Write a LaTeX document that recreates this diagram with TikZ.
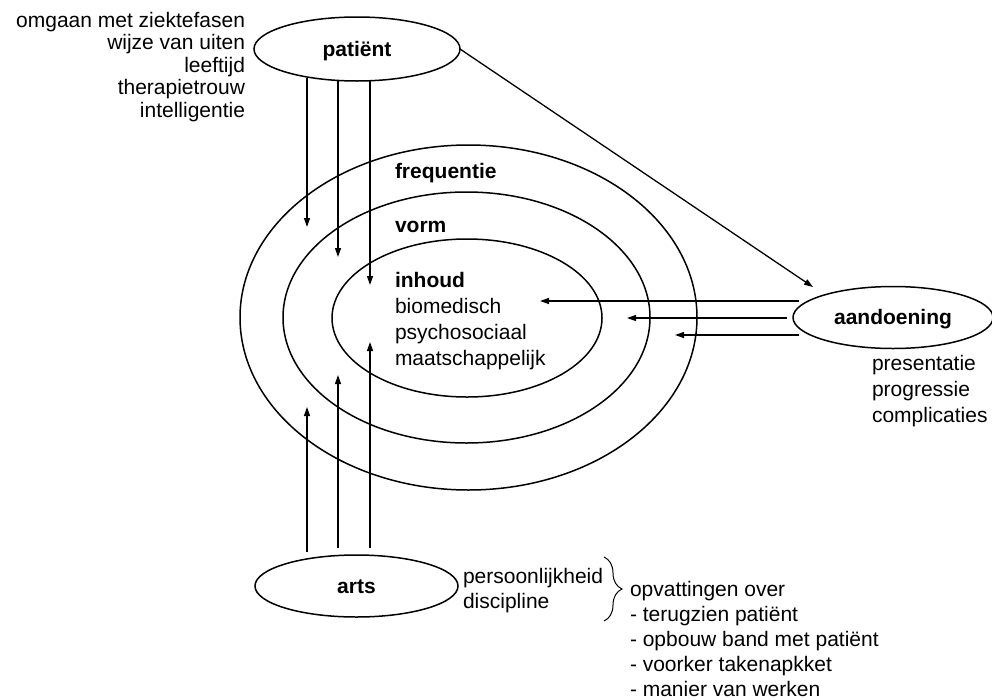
\documentclass[tikz,border=0pt]{standalone}
\usepackage{fontspec}
\setmainfont{Liberation Sans}
\usetikzlibrary{shapes.geometric,arrows.meta,decorations.pathreplacing,calc}
\begin{document}
\begin{tikzpicture}[x=1pt,y=-1pt,
  every node/.style={font=\fontsize{21}{24}\selectfont, inner sep=0pt, outer sep=0pt},
  lbl/.style={font=\fontsize{21}{24}\selectfont},
  bold/.style={font=\fontsize{21}{24}\selectfont\bfseries},
  oval/.style={ellipse, draw, line width=1.5pt, inner sep=0pt, text height=15pt, text depth=1pt,
    font=\fontsize{21}{24}\selectfont\bfseries},
  ring/.style={ellipse, draw, line width=1.5pt, inner sep=0pt},
  arr/.style={-{Triangle[length=9pt,width=6pt]}, line width=1.3pt}]
\useasboundingbox (0,0) rectangle (992,699);

% concentric rings
\node[ring, minimum width=457pt, minimum height=345pt] (outer) at (468.5,317.5) {};
\node[ring, minimum width=367pt, minimum height=251pt] (middle) at (466.5,317.5) {};
\node[ring, minimum width=270pt, minimum height=158pt] (inner) at (467,318) {};

% main ellipses
\node[oval, minimum width=206pt, minimum height=64pt] (pat) at (357,49) {patiënt};
\node[oval, minimum width=203pt, minimum height=62pt] (arts) at (356.5,586) {arts};
\node[oval, minimum width=200pt, minimum height=62pt] (ann) at (893,317.5) {aandoening};

% patient attributes
\node[lbl, anchor=base east] (p1) at (245,27) {omgaan met ziektefasen};
\node[lbl, anchor=base east] (p2) at (245,49) {wijze van uiten};
\node[lbl, anchor=base east] (p3) at (245,72) {leeftijd};
\node[lbl, anchor=base east] (p4) at (245,94.5) {therapietrouw};
\node[lbl, anchor=base east] (p5) at (245,117) {intelligentie};

% ring labels
\node[bold, anchor=base west] (freq) at (395,178) {frequentie};
\node[bold, anchor=base west] (vorm) at (395,232) {vorm};
\node[bold, anchor=base west] (inh) at (395,287) {inhoud};
\node[lbl, anchor=base west] (bio) at (395,313) {biomedisch};
\node[lbl, anchor=base west] (psy) at (395,339) {psychosociaal};
\node[lbl, anchor=base west] (maa) at (395,365) {maatschappelijk};

% aandoening attributes
\node[lbl, anchor=base west] (a1) at (872,370) {presentatie};
\node[lbl, anchor=base west] (a2) at (872,396) {progressie};
\node[lbl, anchor=base west] (a3) at (872,422) {complicaties};

% arts attributes
\node[lbl, anchor=base west] (pers) at (463,583) {persoonlijkheid};
\node[lbl, anchor=base west] (disc) at (463,608) {discipline};
\draw[decorate, decoration={brace, amplitude=18pt, aspect=0.5}, line width=1pt]
  (604,557) -- (604,621);
\node[lbl, anchor=base west] (o0) at (630,596) {opvattingen over};
\node[lbl, anchor=base west] (o1) at (630,621) {- terugzien patiënt};
\node[lbl, anchor=base west] (o2) at (630,646) {- opbouw band met patiënt};
\node[lbl, anchor=base west] (o3) at (630,671) {- voorker takenapkket};
\node[lbl, anchor=base west] (o4) at (630,696) {- manier van werken};

% arrow tips
\coordinate (pt1) at (307,227);
\coordinate (pt2) at (338,257);
\coordinate (pt3) at (370,285);
\coordinate (at1) at (307,407);
\coordinate (at2) at (338,375);
\coordinate (at3) at (370,342);
\coordinate (ai1) at (540,301);
\coordinate (ai2) at (627,318);
\coordinate (ai3) at (675,335);
\coordinate (dtip) at (813,287);

% patient arrows
\draw[arr] ($(pat.south -| pt1)+(0,-3)$) -- (pt1);
\draw[arr] (pat.south -| pt2) -- (pt2);
\draw[arr] (pat.south -| pt3) -- (pt3);

% arts arrows
\draw[arr] ($(arts.north -| at1)+(0,-3)$) -- (at1);
\draw[arr] ($(arts.north -| at2)+(0,-7)$) -- (at2);
\draw[arr] ($(arts.north -| at3)+(0,-7)$) -- (at3);

% aandoening arrows
\draw[arr] ($(ann.west |- ai1)+(6,0)$) -- (ai1);
\draw[arr] ($(ann.west |- ai2)+(-6,0)$) -- (ai2);
\draw[arr] ($(ann.west |- ai3)+(6,0)$) -- (ai3);

% patient to aandoening
\draw[arr] (pat.east) -- (dtip);
\end{tikzpicture}
\end{document}
